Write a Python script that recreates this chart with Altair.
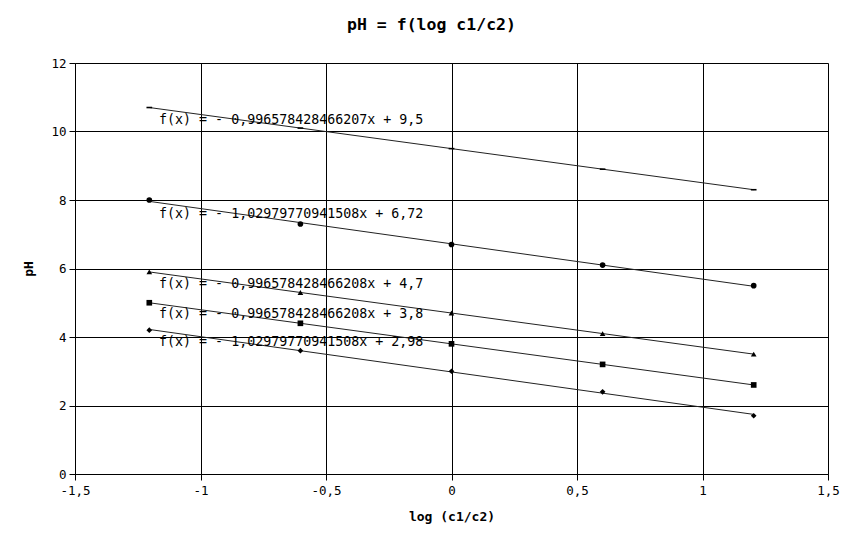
import altair as alt
import pandas as pd

# ---- data ----
x_log = [-1.204, -0.602, 0.0, 0.602, 1.204]
series_names = ["A", "B", "C", "D", "E"]
ph_A = [10.7, 10.1, 9.5, 8.9, 8.3]
ph_B = [8.0, 7.3, 6.7, 6.1, 5.5]
ph_C = [5.9, 5.3, 4.7, 4.1, 3.5]
ph_D = [5.0, 4.4, 3.8, 3.2, 2.6]
ph_E = [4.2, 3.6, 3.0, 2.4, 1.7]

equations = [
    "f(x) = - 0,996578428466207x + 9,5",
    "f(x) = - 1,02979770941508x + 6,72",
    "f(x) = - 0,996578428466208x + 4,7",
    "f(x) = - 0,996578428466208x + 3,8",
    "f(x) = - 1,02979770941508x + 2,98",
]
eq_x = [-1.165, -1.165, -1.165, -1.165, -1.165]
eq_y = [10.35, 7.6, 5.55, 4.68, 3.85]

x_ticks = [-1.5, -1, -0.5, 0, 0.5, 1, 1.5]
y_ticks = [0, 2, 4, 6, 8, 10, 12]

# ---- tables ----
rows = []
for name, vals in zip(series_names, [ph_A, ph_B, ph_C, ph_D, ph_E]):
    for xv, yv in zip(x_log, vals):
        rows.append({"series": name, "x": xv, "y": yv})
df = pd.DataFrame(rows)
lab = pd.DataFrame({"x": eq_x, "y": eq_y, "text": equations})

FONT = "DejaVu Sans Mono"
dash_path = "M-1,-0.28H1V0.28H-1Z"
shapes = [dash_path, "circle", "triangle-up", "square", "diamond"]

xs = alt.Scale(domain=[-1.5, 1.5], nice=False, zero=False)
ys = alt.Scale(domain=[0, 12], nice=False)

x_axis = alt.Axis(
    values=x_ticks, title="log (c1/c2)", grid=True, gridColor="black", gridOpacity=1,
    domainColor="black", tickColor="black", tickSize=6, labelColor="black",
    labelFont=FONT, labelFontSize=12.5, labelPadding=4,
    labelExpr="replace(toString(datum.value), '.', ',')",
    titleFont=FONT, titleFontSize=13, titleFontWeight="bold", titleColor="black",
    titlePadding=14, labelFlush=False,
)
y_axis = alt.Axis(
    values=y_ticks, title="pH", grid=True, gridColor="black", gridOpacity=1,
    domainColor="black", tickColor="black", tickSize=6, labelColor="black",
    labelFont=FONT, labelFontSize=12.5, labelPadding=3, labelFlush=False,
    titleFont=FONT, titleFontSize=13, titleFontWeight="bold", titleColor="black",
    titlePadding=15,
)

base = alt.Chart(df)

lines = base.transform_regression(
    "x", "y", groupby=["series"], extent=[-1.204, 1.204]
).mark_line(color="#222222", strokeWidth=1).encode(
    x=alt.X("x:Q", scale=xs, axis=x_axis),
    y=alt.Y("y:Q", scale=ys, axis=y_axis),
    detail="series:N",
)

points = base.mark_point(filled=True, color="black", opacity=1).encode(
    x=alt.X("x:Q", scale=xs),
    y=alt.Y("y:Q", scale=ys),
    shape=alt.Shape("series:N", scale=alt.Scale(domain=series_names, range=shapes), legend=None),
    size=alt.value(32),
)

texts = alt.Chart(lab).mark_text(
    font=FONT, fontSize=13.3, align="left", baseline="middle", color="black"
).encode(
    x=alt.X("x:Q", scale=xs),
    y=alt.Y("y:Q", scale=ys),
    text="text:N",
)

chart = alt.layer(lines, points, texts).properties(
    width=753,
    height=411,
    autosize=alt.AutoSizeParams(type="none"),
    padding={"left": 67, "top": 55, "right": 30, "bottom": 60},
    title=alt.TitleParams(
        "pH = f(log c1/c2)", font=FONT, fontSize=16.5, fontWeight="bold",
        color="black", anchor="middle", offset=24, dx=-20,
    ),
).configure_view(stroke="black", strokeWidth=1).configure(background="white")

chart.save("out.html", embed_options={"renderer": "svg", "actions": False})
